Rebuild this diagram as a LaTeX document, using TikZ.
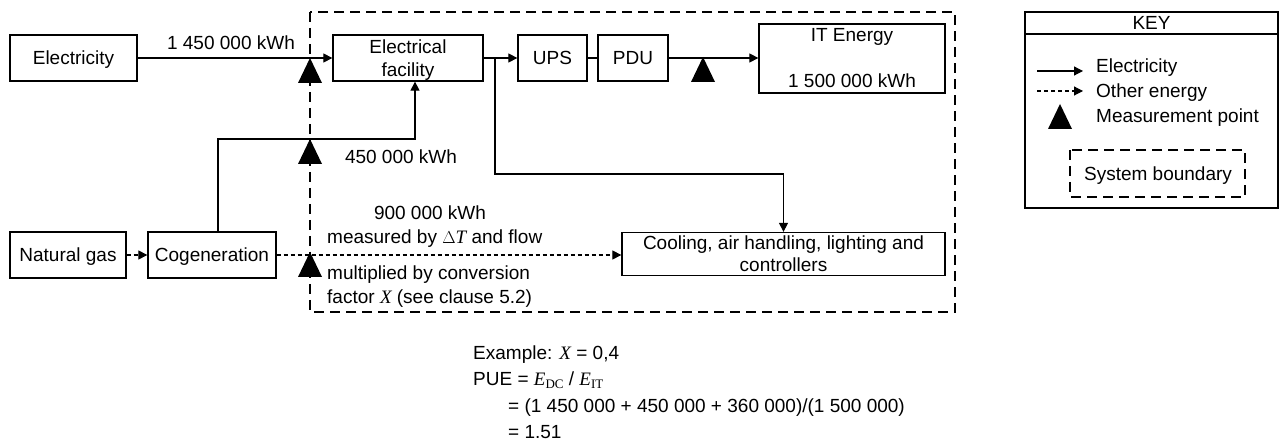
\documentclass[tikz,border=0pt]{standalone}
\usepackage{fontspec}
\setmainfont{Liberation Sans}
\newfontfamily\serf{Liberation Serif}
\usetikzlibrary{arrows.meta}
\tikzset{
  every node/.style={font=\fontsize{19}{23}\selectfont, text height=14pt, text depth=0pt},
  box/.style={draw, line width=1.3pt, inner sep=0pt},
  conn/.style={line width=1.2pt},
  arr/.style={conn, -{Triangle[length=9pt,width=9pt]}},
  darr/.style={line width=1.1pt, dash pattern=on 4pt off 3pt, -{Triangle[length=9pt,width=9pt]}},
  bound/.style={line width=2.4pt, dash pattern=on 10pt off 6pt},
  lbl/.style={inner sep=0pt},
  meas/.pic={\fill (-12,25) -- (0,0) -- (12,25) -- cycle;}
}
\newcommand{\vi}[1]{{\serf\itshape #1}}
\begin{document}
\begin{tikzpicture}[x=1pt,y=-1pt]
\useasboundingbox (0,0) rectangle (1284,443);
% boundary
\draw[bound] (310,12) rectangle (955,312);
% nodes
\node[box, minimum width=127pt, minimum height=46pt] (elec) at (73.5,58) {Electricity};
\node[box, minimum width=150pt, minimum height=46pt] (ef) at (408,58) {};
\node[lbl] (ef1) at (408,47) {Electrical};
\node[lbl] (ef2) at (408,70) {facility};
\node[box, minimum width=69pt, minimum height=46pt] (ups) at (552.5,58) {UPS};
\node[box, minimum width=70pt, minimum height=46pt] (pdu) at (633,58) {PDU};
\node[box, minimum width=186pt, minimum height=69pt] (it) at (852,58.5) {};
\node[lbl] (itt) at (852,35) {IT Energy};
\node[lbl] (itv) at (852,81) {1 500 000 kWh};
\node[box, minimum width=323pt, minimum height=43pt] (cool) at (783.5,254) {};
\node[lbl] (c1) at (783.5,243) {Cooling, air handling, lighting and};
\node[lbl] (c2) at (783.5,265) {controllers};
\node[box, minimum width=116pt, minimum height=46pt] (ng) at (68,255) {Natural gas};
\node[box, minimum width=128pt, minimum height=46pt] (cogen) at (212,255) {Cogeneration};
% connectors
\draw[arr] (elec.east) -- (ef.west |- elec.east);
\draw[arr] (ef.east |- ups.west) -- (ups.west);
\draw[conn] (ups.east) -- (pdu.west);
\draw[arr] (pdu.east) -- (it.west |- pdu.east);
\coordinate (br) at (495,58);
\draw[arr] (br) -- (495,174) -- (783.5,174) -- (cool.north);
\draw[arr] (cogen.north -| 218,0) -- (218,139) -- (415,139) -- (ef.south -| 415,0);
\draw[darr] (ng.east) -- (cogen.west);
\draw[darr] (cogen.east) -- (cool.west |- cogen.east);
% measurement points
\pic at (310,58) {meas};
\pic at (310,139) {meas};
\pic at (310,252) {meas};
\pic at (703,57) {meas};
% labels
\node[lbl] (l1) at (231,43) {1 450 000 kWh};
\node[lbl] (l2) at (401,157) {450 000 kWh};
\node[lbl] (l3) at (430,213) {900 000 kWh};
\node[lbl, anchor=west] (l4) at (327,237) {measured by {\serf$\Delta$}\vi{T} and flow};
\node[lbl, anchor=west] (l5) at (327,273) {multiplied by conversion};
\node[lbl, anchor=west] (l6) at (327,297) {factor \vi{X} (see clause 5.2)};
% key
\draw[line width=1.3pt] (1025,12) rectangle (1278,208);
\draw[line width=1.3pt] (1025,34) -- (1278,34);
\node[lbl] (key) at (1151.5,23) {KEY};
\coordinate (k1a) at (1037,71); \coordinate (k1b) at (1083,71);
\draw[arr] (k1a) -- (k1b);
\node[lbl, anchor=west] (k1t) at (1096,66) {Electricity};
\coordinate (k2a) at (1037,91); \coordinate (k2b) at (1083,91);
\draw[darr] (k2a) -- (k2b);
\node[lbl, anchor=west] (k2t) at (1096,91) {Other energy};
\pic at (1060,104) {meas};
\node[lbl, anchor=west] (k3t) at (1096,116) {Measurement point};
\draw[bound] (1070,150) rectangle (1245,197);
\node[lbl] (k4t) at (1158,174) {System boundary};
% example
\node[lbl, anchor=west] (e1) at (473,352) {Example: \vi{X} = 0,4};
\node[lbl, anchor=west] (e2) at (473,378) {PUE = \vi{E}{\serf\fontsize{13}{13}\selectfont\raisebox{-3pt}{DC}} / \vi{E}{\serf\fontsize{13}{13}\selectfont\raisebox{-3pt}{IT}}};
\node[lbl, anchor=west] (e3) at (508,405) {= (1 450 000 + 450 000 + 360 000)/(1 500 000)};
\node[lbl, anchor=west] (e4) at (508,431) {= 1.51};
\end{tikzpicture}
\end{document}
